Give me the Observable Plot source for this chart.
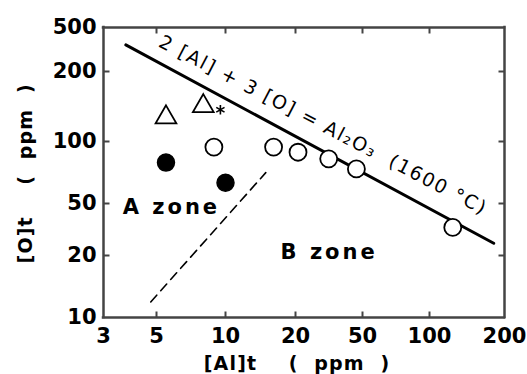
<!DOCTYPE html>
<html><head><meta charset="utf-8">
<script src="https://cdn.jsdelivr.net/npm/d3@7"></script>
<script src="https://cdn.jsdelivr.net/npm/@observablehq/plot@0.6"></script>
<style>body{margin:0;background:#fff} #chart svg{display:block;font-family:"DejaVu Sans";background:#fff;color:#000}</style>
</head><body><div id="chart"></div>
<script>
// tick values
const xTicks = [3, 5, 10, 20, 50, 100, 200];
const yTicks = [10, 20, 50, 100, 200, 500];
const xInnerTicks = [5, 10, 20, 50, 100];
const yInnerTicks = [20, 50, 100, 200];

// series values ([Al]t ppm, [O]t ppm)
const openAl = [8.9, 16.1, 20.7, 31.5, 46.0, 124];
const openO  = [94, 94, 88.7, 82.4, 73.6, 32.8];
const filledAl = [5.5, 10.0];
const filledO  = [79, 63];
const triAl = [5.5, 8.0];
const triO  = [127, 142];
const starAl = [9.5];
const starO  = [137];
const eqAl = [3.72, 181];
const eqO  = [348, 24.8];
const boundAl = [4.73, 14.9];
const boundO  = [11.9, 70.6];

// labels
const eqLabel = ["2 [Al] + 3 [O] = Al₂O₃  (1600 °C)"];
const eqLabelAl = [5.2];
const eqLabelO = [380];
const zoneLabels = ["A zone", "B zone"];
const zoneAl = [3.61, 17.25];
const zoneO = [46.4, 21.1];
const xTitle = "[Al]t    (  ppm  )";
const yTitle = "[O]t    (  ppm  )";

const zipXY = (a, b) => a.map((v, i) => ({x: v, y: b[i]}));
const xEnds = [xTicks[0], xTicks[xTicks.length - 1]];
const yEnds = [yTicks[0], yTicks[yTicks.length - 1]];

// inward tick shapes
const tickUp = {draw(c) { c.moveTo(0, 0); c.lineTo(0, -6); }};
const tickDown = {draw(c) { c.moveTo(0, 0); c.lineTo(0, 6); }};
const tickRight = {draw(c) { c.moveTo(0, 0); c.lineTo(6, 0); }};
const tickLeft = {draw(c) { c.moveTo(0, 0); c.lineTo(-6, 0); }};

const font = "DejaVu Sans";
const ink = "#000";
const edge = "#444";
const plot = Plot.plot({
  width: 527, height: 374,
  marginLeft: 103, marginRight: 23, marginTop: 27, marginBottom: 57,
  x: {type: "log", domain: xTicks, range: [103, 156, 225, 295, 362, 429, 504]},
  y: {type: "log", domain: yTicks, range: [317, 255, 203, 141, 71, 27]},
  axis: null,
  marks: [
    Plot.ruleX(xEnds, {stroke: edge, strokeWidth: 2.5, strokeLinecap: "square"}),
    Plot.ruleY(yEnds, {stroke: edge, strokeWidth: 2.5, strokeLinecap: "square"}),
    Plot.dot(xInnerTicks, {x: d => d, frameAnchor: "bottom", symbol: tickUp, fill: "none", stroke: edge, strokeWidth: 2}),
    Plot.dot(xInnerTicks, {x: d => d, frameAnchor: "top", symbol: tickDown, fill: "none", stroke: edge, strokeWidth: 2}),
    Plot.dot(yInnerTicks, {y: d => d, frameAnchor: "left", symbol: tickRight, fill: "none", stroke: edge, strokeWidth: 2}),
    Plot.dot(yInnerTicks, {y: d => d, frameAnchor: "right", symbol: tickLeft, fill: "none", stroke: edge, strokeWidth: 2}),
    Plot.text(xTicks, {x: d => d, text: d => String(d), frameAnchor: "bottom", dy: 11, lineAnchor: "top", fontFamily: font, fontSize: 21, fontWeight: "bold", fill: ink}),
    Plot.text(yTicks, {y: d => d, text: d => String(d), frameAnchor: "left", dx: -7, textAnchor: "end", lineAnchor: "middle", fontFamily: font, fontSize: 21, fontWeight: "bold", fill: ink}),
    Plot.line(zipXY(eqAl, eqO), {x: "x", y: "y", strokeWidth: 3, stroke: ink}),
    Plot.line(zipXY(boundAl, boundO), {x: "x", y: "y", strokeWidth: 1.6, stroke: ink, strokeDasharray: "9,6"}),
    Plot.dot(zipXY(openAl, openO), {x: "x", y: "y", r: 8.5, fill: "#fff", stroke: ink, strokeWidth: 1.8}),
    Plot.dot(zipXY(filledAl, filledO), {x: "x", y: "y", r: 8.5, fill: ink, stroke: ink}),
    Plot.dot(zipXY(triAl, triO), {x: "x", y: "y", symbol: "triangle", r: 7.7, fill: "#fff", stroke: ink, strokeWidth: 1.8}),
    Plot.dot(zipXY(starAl, starO), {x: "x", y: "y", symbol: "asterisk", r: 4.5, stroke: ink, strokeWidth: 1.6}),
    Plot.text(eqLabel, {x: () => eqLabelAl[0], y: () => eqLabelO[0], text: d => d, rotate: 27.5, textAnchor: "start", lineAnchor: "middle", fontFamily: font, fontSize: 19, fill: ink}),
    Plot.text(zoneLabels, {x: (d, i) => zoneAl[i], y: (d, i) => zoneO[i], text: d => d, textAnchor: "start", lineAnchor: "middle", fontFamily: font, fontSize: 21, fontWeight: "bold", fill: ink}),
    Plot.text([xTitle], {frameAnchor: "bottom", text: d => d, dx: -7, dy: 46, textAnchor: "middle", lineAnchor: "middle", fontFamily: font, fontSize: 19, fontWeight: "bold", fill: ink}),
    Plot.text([yTitle], {frameAnchor: "left", text: d => d, dx: -78, dy: 91, rotate: -90, textAnchor: "start", lineAnchor: "middle", fontFamily: font, fontSize: 19, fontWeight: "bold", fill: ink})
  ]
});
d3.select(plot).selectAll("text").each(function () {
  const t = this.textContent;
  if (t.includes("zone")) this.setAttribute("letter-spacing", "3");
  if (t.includes("1600")) this.setAttribute("letter-spacing", "1.8");
  if (t.includes("ppm")) this.setAttribute("letter-spacing", "1.2");
});
document.getElementById("chart").appendChild(plot);
</script>
</body></html>
